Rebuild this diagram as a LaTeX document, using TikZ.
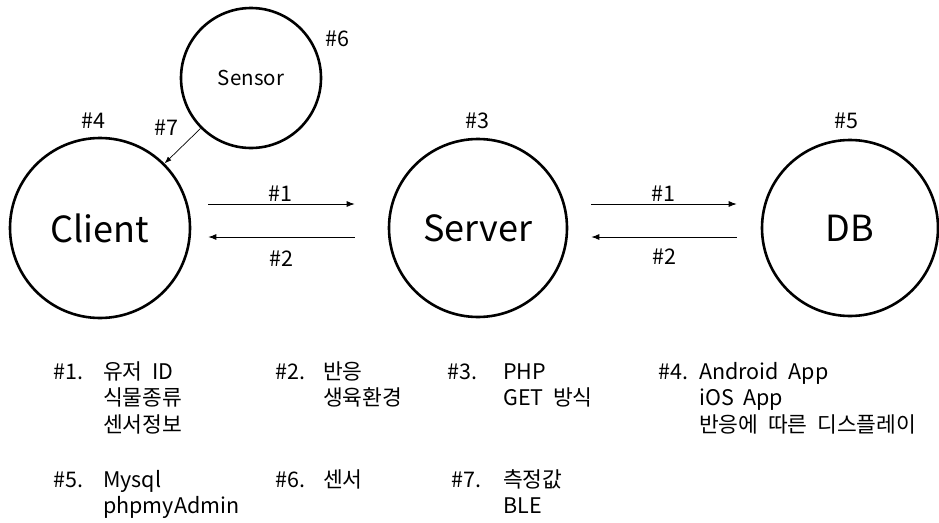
\documentclass[tikz,border=0pt]{standalone}
\usepackage{fontspec}
\setmainfont[WordSpace=2]{Noto Sans CJK KR}
\usetikzlibrary{arrows.meta}
% top-aligned list of lines, so the node's base is the first line
\newcommand{\linesof}[1]{\begin{tabular}[t]{@{}l@{}}#1\end{tabular}}
\begin{document}
\begin{tikzpicture}[x=1pt,y=-1pt,
  unit/.style={draw, circle, line width=2.6pt, inner sep=0pt},
  tag/.style={inner sep=0pt, font=\fontsize{21.5}{24}\selectfont},
  flow/.style={-{Latex[length=8pt,width=6pt]}, line width=0.9pt},
  note/.style={anchor=base west, inner sep=0pt, font=\fontsize{21.5}{26.5}\selectfont}]
\useasboundingbox (0,0) rectangle (939,522);
\clip (0,0) rectangle (939,522);
\renewcommand{\arraystretch}{1}

% main blocks
\node[unit, minimum size=180pt, font=\fontsize{36}{40}\selectfont] (client) at (100,228) {Client};
\node[unit, minimum size=178pt, font=\fontsize{36}{40}\selectfont] (server) at (478,228) {Server};
\node[unit, minimum size=176pt, font=\fontsize{36}{40}\selectfont] (db) at (850,228) {DB};
\node[unit, minimum size=140pt, font=\fontsize{20.5}{24}\selectfont] (sensor) at (251,78) {Sensor};

% block numbers
\node[tag] (t6) at (337,39) {\#6};
\node[tag] (t4) at (93,121) {\#4};
\node[tag] (t7) at (166,128) {\#7};
\node[tag] (t3) at (477,121) {\#3};
\node[tag] (t5) at (846,121) {\#5};

% request / response flows
\draw[flow] ([shift={(17,-24)}]client.east) -- ([shift={(-33,-24)}]server.west);
\draw[flow] ([shift={(-33,9)}]server.west) -- ([shift={(17,9)}]client.east);
\draw[flow] ([shift={(23,-24)}]server.east) -- ([shift={(-24,-24)}]db.west);
\draw[flow] ([shift={(-24,9)}]db.west) -- ([shift={(23,9)}]server.east);
\node[tag] (l1a) at (280,194) {\#1};
\node[tag] (l2a) at (281,259) {\#2};
\node[tag] (l1b) at (663,194) {\#1};
\node[tag] (l2b) at (664,257) {\#2};

% sensor link
\draw[flow, line width=0.7pt, -{Latex[length=7pt,width=5pt]}] (sensor.225) -- (client.45);

% legend
\node[note] (n1) at (53,379) {\#1.};
\node[note] (d1) at (103,379) {\linesof{유저 ID\\식물종류\\센서정보}};
\node[note] (n2) at (275,379) {\#2.};
\node[note] (d2) at (323,379) {\linesof{반응\\생육환경}};
\node[note] (n3) at (447,379) {\#3.};
\node[note] (d3) at (503,379) {\linesof{PHP\\GET 방식}};
\node[note] (n4) at (658,379) {\#4.};
\node[note] (d4) at (699,379) {\linesof{Android App\\iOS App\\반응에 따른 디스플레이}};
\node[note] (n5) at (53,487) {\#5.};
\node[note] (d5) at (103,487) {\linesof{Mysql\\phpmyAdmin}};
\node[note] (n6) at (275,487) {\#6.};
\node[note] (d6) at (323,487) {\linesof{센서}};
\node[note] (n7) at (451,487) {\#7.};
\node[note] (d7) at (503,487) {\linesof{측정값\\BLE}};
\end{tikzpicture}
\end{document}
